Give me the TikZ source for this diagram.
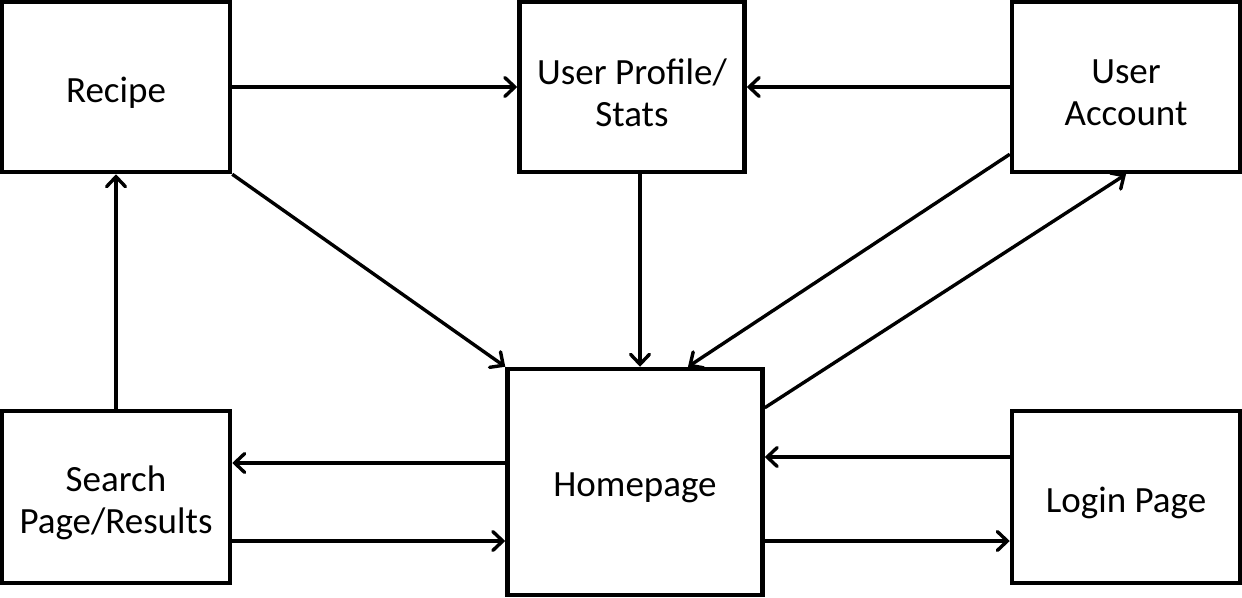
\documentclass[tikz,border=0pt]{standalone}
\usepackage{fontspec}
\setmainfont{Carlito}
\usetikzlibrary{arrows.meta}

\begin{document}
\begin{tikzpicture}[y=-1pt, x=1pt,
  page/.style={draw=black, line width=4.5pt, fill=white, inner sep=0pt},
  caption/.style={label={[align=center, yshift=-6pt,
    font=\fontsize{37}{42}\selectfont]center:#1}},
  arr/.style={draw=black, line width=3.4pt,
    -{Straight Barb[length=10pt,width=19pt,line cap=round]}}]
\useasboundingbox (0,0) rectangle (1242,597);
% pages
\node[page, minimum width=228pt, minimum height=170pt, caption={Recipe}] (recipe) at (116,87) {};
\node[page, minimum width=225pt, minimum height=170pt, caption={User Profile/\\Stats}] (profile) at (632,87) {};
\node[page, minimum width=228pt, minimum height=170pt, caption={User\\Account}] (account) at (1126,87) {};
\node[page, minimum width=228pt, minimum height=172pt, caption={Search\\Page/Results}] (search) at (116,497) {};
\node[page, minimum width=255pt, minimum height=226pt, caption={Homepage}] (home) at (635,482) {};
\node[page, minimum width=228pt, minimum height=172pt, caption={Login Page}] (login) at (1126,497) {};
% anchor points
\coordinate (s1) at ([yshift=34pt]search.east);
\coordinate (s2) at ([yshift=-44pt]search.east);
\coordinate (l1) at ([yshift=40pt]login.west);
\coordinate (l2) at ([yshift=-44pt]login.west);
\coordinate (p1) at ([xshift=8pt]profile.south);
\coordinate (a1) at ([yshift=20pt]account.south west);
\coordinate (h1) at ([xshift=53pt]home.north);
\coordinate (h2) at ([yshift=-41pt]home.north east);
% links
\draw[arr] (recipe) -- (profile);
\draw[arr] (account) -- (profile);
\draw[arr] (recipe.south east) -- (home.north west);
\draw[arr] (p1) -- (p1 |- home.north);
\draw[arr] (a1) -- (h1);
\draw[arr] (h2) -- (account.south);
\draw[arr] (search) -- (recipe);
\draw[arr] (home.west |- s1) -- (s1);
\draw[arr] (s2) -- (home.west |- s2);
\draw[arr] (l1) -- (home.east |- l1);
\draw[arr] (home.east |- l2) -- (l2);

\end{tikzpicture}
\end{document}
